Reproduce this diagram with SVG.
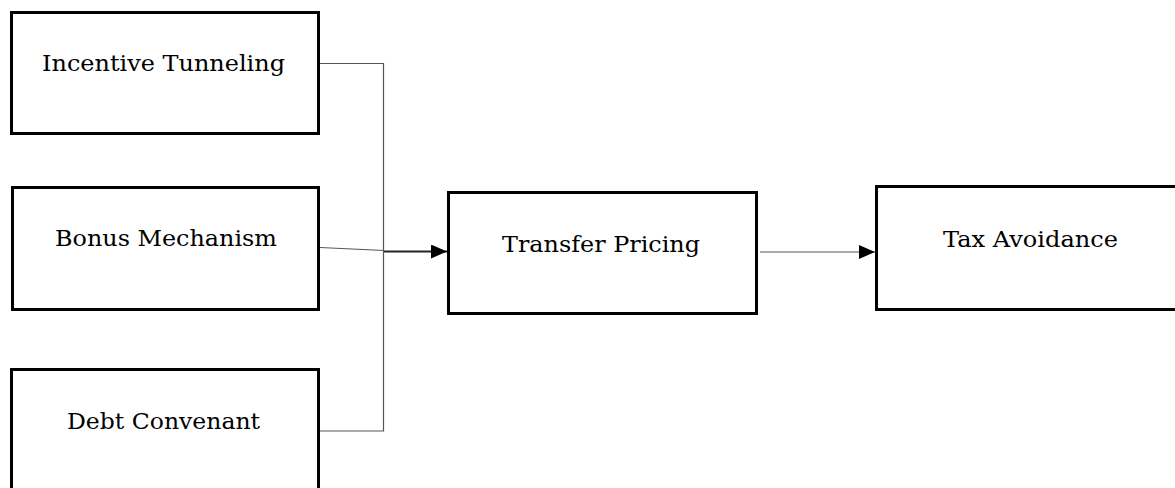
<svg xmlns="http://www.w3.org/2000/svg" width="1175" height="488" viewBox="0 0 1175 488">
  <style>
    .box { fill: #ffffff; stroke: #000000; stroke-width: 3; }
    .label { font-family: "DejaVu Serif", "Liberation Serif", serif; font-size: 23px; fill: #000000; }
    .wire { fill: none; stroke: #555555; stroke-width: 1.2; }
    .wire-bold { fill: none; stroke: #222222; stroke-width: 2; }
  </style>
  <defs>
    <marker id="arrow" viewBox="0 0 16 14" refX="16" refY="7" markerWidth="16" markerHeight="14" markerUnits="userSpaceOnUse" orient="auto">
      <path d="M0,0 L16,7 L0,14 Z" fill="#000000"/>
    </marker>
  </defs>
  <rect width="1175" height="488" fill="#ffffff"/>

  <g id="incentive-tunneling">
    <rect class="box" x="11.5" y="12.5" width="307" height="121"/>
    <text class="label" x="42" y="71" textLength="243" lengthAdjust="spacingAndGlyphs">Incentive Tunneling</text>
  </g>
  <g id="bonus-mechanism">
    <rect class="box" x="12.5" y="187.5" width="306" height="122"/>
    <text class="label" x="55" y="246" textLength="222" lengthAdjust="spacingAndGlyphs">Bonus Mechanism</text>
  </g>
  <g id="debt-convenant">
    <rect class="box" x="11.5" y="369.5" width="307" height="130"/>
    <text class="label" x="67" y="429" textLength="193" lengthAdjust="spacingAndGlyphs">Debt Convenant</text>
  </g>
  <g id="transfer-pricing">
    <rect class="box" x="448.5" y="192.5" width="308" height="121"/>
    <text class="label" x="502" y="252" textLength="198" lengthAdjust="spacingAndGlyphs">Transfer Pricing</text>
  </g>
  <g id="tax-avoidance">
    <rect class="box" x="876.5" y="186.5" width="310" height="123"/>
    <text class="label" x="943" y="247" textLength="175" lengthAdjust="spacingAndGlyphs">Tax Avoidance</text>
  </g>

  <g id="connectors">
    <path class="wire" d="M320,63.5 H383.5 V431 H320"/>
    <path class="wire" d="M320,247.5 L384,250.5"/>
    <path class="wire-bold" d="M384,251.5 L447,251.5" marker-end="url(#arrow)"/>
    <path class="wire" d="M760,252 L875,252" marker-end="url(#arrow)"/>
  </g>
</svg>
